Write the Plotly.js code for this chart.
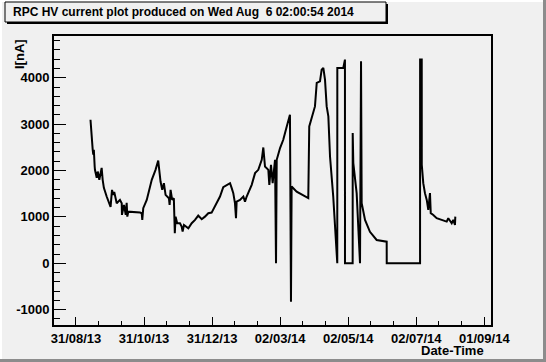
<!DOCTYPE html>
<html>
<head>
<meta charset="utf-8">
<script src="https://cdn.plot.ly/plotly-3.0.1.min.js"></script>
<style>
  html, body { margin: 0; padding: 0; background: #f0f0f0; }
  #chart { width: 546px; height: 362px; }
</style>
</head>
<body>
<div id="chart"></div>
<script>
// Date-time of each HV current reading
const times = [
  '2013-09-13 00:00','2013-09-14 00:00','2013-09-15 00:00','2013-09-15 12:00','2013-09-16 00:00','2013-09-16 18:00',
  '2013-09-17 00:00','2013-09-18 14:00','2013-09-19 12:00','2013-09-20 22:00','2013-09-23 00:00','2013-09-23 22:00',
  '2013-09-25 00:00','2013-09-27 12:00','2013-10-01 00:00','2013-10-02 07:00','2013-10-03 10:00','2013-10-04 07:00',
  '2013-10-06 12:00','2013-10-09 10:00','2013-10-11 00:00','2013-10-11 05:00','2013-10-13 00:00','2013-10-14 14:00',
  '2013-10-15 10:00','2013-10-16 00:00','2013-10-16 22:00','2013-10-27 10:00','2013-10-28 22:00','2013-10-29 10:00',
  '2013-10-30 07:00','2013-11-02 10:00','2013-11-06 22:00','2013-11-10 07:00','2013-11-12 17:00','2013-11-13 07:00',
  '2013-11-14 19:00','2013-11-16 07:00','2013-11-17 19:00','2013-11-19 07:00','2013-11-22 07:00','2013-11-22 22:00',
  '2013-11-23 19:00','2013-11-25 05:00','2013-11-26 17:00','2013-11-27 14:00','2013-11-28 07:00','2013-11-29 17:00',
  '2013-12-02 05:00','2013-12-03 17:00','2013-12-04 14:00','2013-12-05 19:00','2013-12-08 05:00','2013-12-09 17:00',
  '2013-12-12 17:00','2013-12-15 17:00','2013-12-18 14:00','2013-12-21 17:00','2013-12-24 14:00','2013-12-27 14:00',
  '2013-12-30 14:00','2014-01-02 14:00','2014-01-07 02:00','2014-01-10 00:00','2014-01-13 02:00','2014-01-16 02:00',
  '2014-01-17 14:00','2014-01-19 00:00','2014-01-20 12:00','2014-01-21 10:00','2014-01-22 00:00','2014-01-25 00:00',
  '2014-01-28 00:00','2014-01-29 12:00','2014-01-31 00:00','2014-02-04 12:00','2014-02-07 12:00','2014-02-10 10:00',
  '2014-02-13 12:00','2014-02-14 22:00','2014-02-16 10:00','2014-02-19 10:00','2014-02-20 07:00','2014-02-21 19:00',
  '2014-02-23 07:00','2014-02-25 10:00','2014-02-26 07:00','2014-02-26 22:00','2014-03-01 22:00','2014-03-04 19:00',
  '2014-03-07 22:00','2014-03-10 19:00','2014-03-11 17:00','2014-03-12 07:00','2014-03-16 19:00','2014-03-22 17:00',
  '2014-03-27 05:00','2014-03-28 02:00','2014-03-30 07:00','2014-03-31 17:00','2014-04-02 05:00','2014-04-03 19:00',
  '2014-04-06 17:00','2014-04-08 05:00','2014-04-09 17:00','2014-04-11 05:00','2014-04-12 17:00','2014-04-14 05:00',
  '2014-04-15 17:00','2014-04-18 14:00','2014-04-21 02:00','2014-04-22 05:00','2014-04-22 06:00','2014-04-27 14:00',
  '2014-04-29 02:00','2014-04-29 03:00','2014-05-06 00:00','2014-05-06 01:00','2014-05-06 14:00','2014-05-09 14:00',
  '2014-05-12 14:00','2014-05-13 12:00','2014-05-14 02:00','2014-05-17 02:00','2014-05-21 12:00','2014-05-27 12:00',
  '2014-06-05 12:00','2014-06-05 13:00','2014-07-05 10:00','2014-07-05 11:00','2014-07-06 22:00','2014-07-06 23:00',
  '2014-07-08 07:00','2014-07-09 19:00','2014-07-11 10:00','2014-07-12 19:00','2014-07-14 07:00','2014-07-15 00:00',
  '2014-07-17 07:00','2014-07-20 07:00','2014-07-24 19:00','2014-07-29 07:00','2014-07-30 17:00','2014-08-02 19:00',
  '2014-08-04 05:00','2014-08-05 17:00','2014-08-06 00:00'
];
// HV current in nA
const currents = [
  3095, 2627, 2447, 2340, 2447, 2086,
  2015, 1842, 1978, 1800, 2058, 1800,
  1626, 1440, 1216, 1583, 1475, 1540,
  1296, 1367, 1296, 1043, 1259, 1043,
  1302, 1006, 1114, 1093, 1080, 935,
  1188, 1367, 1800, 2015, 2216, 2086,
  1762, 1583, 1728, 1475, 1404, 1259,
  1583, 1367, 1404, 648, 1006, 864,
  864, 790, 683, 827, 790, 756,
  864, 935, 1028, 950, 1006, 1080,
  1093, 1222, 1440, 1641, 1691, 1728,
  1620, 1512, 1296, 972, 1330, 1367,
  1440, 1330, 1440, 1691, 1944, 2015,
  2231, 2497, 2086, 2015, 1691, 2123,
  1728, 2231, 0, 2231, 2484, 2663,
  2950, 3203, -829, 1654, 1546, 1475,
  1404, 2950, 3132, 3203, 3382, 3888,
  3922, 4175, 4212, 3959, 3382, 3167,
  2302, 1440, 287, 0, 4212, 4212,
  4391, 0, 0, 2808, 2160, 1512,
  0, 4355, 1296, 935, 680, 503,
  467, 0, 0, 4391, 4391, 2123,
  1728, 1512, 1367, 1151, 1512, 1080,
  1043, 972, 935, 899, 972, 864,
  935, 827, 1006
];
const xTickDates = ['2013-08-31','2013-10-31','2013-12-31','2014-03-02','2014-05-02','2014-07-02','2014-09-01'];
const xTickLabels = ['31/08/13','31/10/13','31/12/13','02/03/14','02/05/14','02/07/14','01/09/14'];
const yTickValues = [-1000, 0, 1000, 2000, 3000, 4000];
const yTickLabels = ['-1000','0','1000','2000','3000','4000'];
const chartTitle = 'RPC HV current plot produced on Wed Aug \u00a06 02:00:54 2014';
const xTitle = 'Date-Time';
const yTitle = 'I[nA]';

const W = 546, H = 362;
const M = {l: 54, r: 55, t: 36, b: 37};
const pw = W - M.l - M.r, ph = H - M.t - M.b;
const px = v => (v - M.l) / pw;          // pixel -> paper x
const py = v => (H - M.b - v) / ph;      // pixel -> paper y

const bold = {family: 'Liberation Sans, Arial, sans-serif', size: 13, color: '#000', weight: 'bold'};
const DAY = 86400000;

const trace = {
  x: times, y: currents, type: 'scatter', mode: 'lines',
  line: {color: '#000', width: 2, shape: 'linear'},
  hoverinfo: 'skip'
};

const layout = {
  width: W, height: H,
  margin: M,
  paper_bgcolor: '#f0f0f0', plot_bgcolor: '#f0f0f0',
  showlegend: false,
  font: bold,
  xaxis: {
    type: 'date',
    range: ['2013-08-11 07:00', '2014-09-07 00:00'],
    tickmode: 'array', tickvals: xTickDates, ticktext: xTickLabels,
    ticks: 'inside', ticklen: 8, tickwidth: 1, tickcolor: '#000',
    minor: {tick0: '2013-08-31', dtick: 61 * DAY / 3, ticks: 'inside', ticklen: 4, tickwidth: 1, tickcolor: '#000', showgrid: false},
    showgrid: false, zeroline: false,
    showline: true, linecolor: '#000', linewidth: 2, mirror: true,
    tickfont: bold
  },
  yaxis: {
    range: [-1330, 4900],
    tickmode: 'array', tickvals: yTickValues, ticktext: yTickLabels,
    ticks: 'inside', ticklen: 12, tickwidth: 1, tickcolor: '#000',
    minor: {tick0: 0, dtick: 200, ticks: 'inside', ticklen: 6, tickwidth: 1, tickcolor: '#000', showgrid: false},
    showgrid: false, zeroline: false,
    showline: true, linecolor: '#000', linewidth: 2, mirror: true,
    tickfont: bold
  },
  shapes: [
    // canvas bevel
    {type: 'rect', xref: 'paper', yref: 'paper', x0: px(0), x1: px(546), y0: py(0), y1: py(2), fillcolor: '#ffffff', line: {width: 0}, layer: 'below'},
    {type: 'rect', xref: 'paper', yref: 'paper', x0: px(0), x1: px(2), y0: py(0), y1: py(362), fillcolor: '#ffffff', line: {width: 0}, layer: 'below'},
    {type: 'rect', xref: 'paper', yref: 'paper', x0: px(543), x1: px(546), y0: py(0), y1: py(362), fillcolor: '#8c8c8c', line: {width: 0}, layer: 'below'},
    {type: 'rect', xref: 'paper', yref: 'paper', x0: px(0), x1: px(546), y0: py(359), y1: py(362), fillcolor: '#8c8c8c', line: {width: 0}, layer: 'below'},
    // title box shadow + box
    {type: 'rect', xref: 'paper', yref: 'paper', x0: px(7), x1: px(388), y0: py(24), y1: py(4), fillcolor: '#000', line: {width: 0}, layer: 'above'},
    {type: 'rect', xref: 'paper', yref: 'paper', x0: px(5), x1: px(386), y0: py(22), y1: py(2), fillcolor: '#f0f0f0', line: {color: '#000', width: 1}, layer: 'above'}
  ],
  annotations: [
    {text: chartTitle, xref: 'paper', yref: 'paper', x: px(11), y: py(12.5), xanchor: 'left', yanchor: 'middle',
     showarrow: false, font: {family: 'Liberation Sans, Arial, sans-serif', size: 12, color: '#000', weight: 'bold'}},
    {text: xTitle, xref: 'paper', yref: 'paper', x: px(486), y: py(350.5), xanchor: 'right', yanchor: 'middle',
     showarrow: false, font: bold},
    {text: yTitle, xref: 'paper', yref: 'paper', x: px(19), y: py(37), xanchor: 'center', yanchor: 'top', textangle: -90,
     showarrow: false, font: bold}
  ]
};

Plotly.newPlot('chart', [trace], layout, {staticPlot: true, displayModeBar: false});
</script>
</body>
</html>
